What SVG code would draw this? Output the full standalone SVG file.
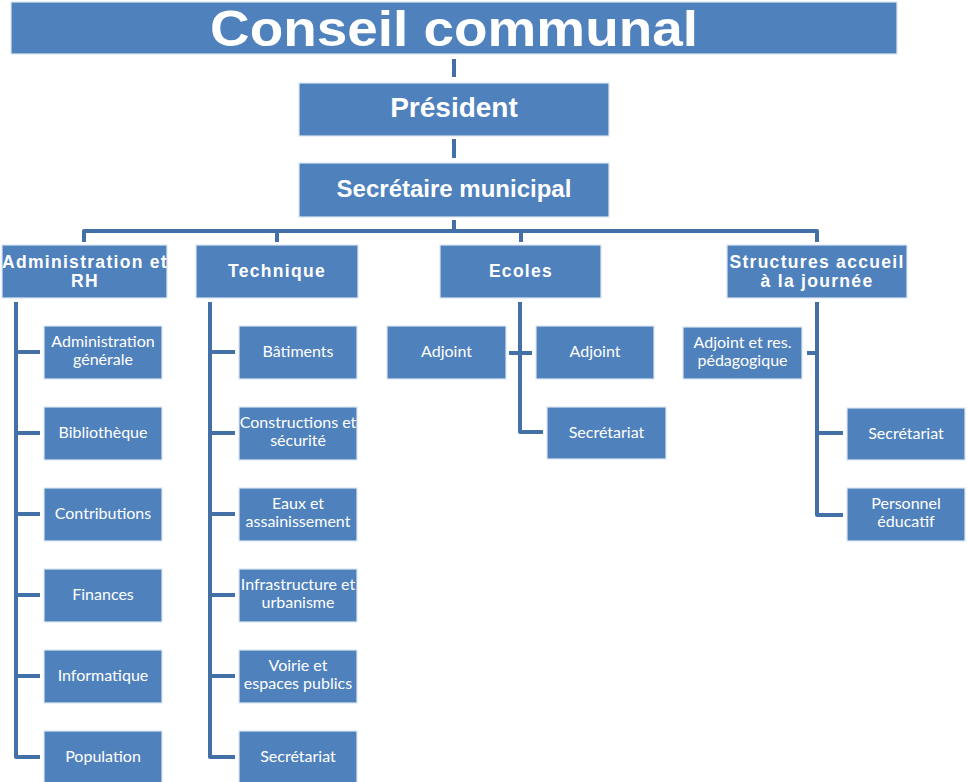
<svg xmlns="http://www.w3.org/2000/svg" width="968" height="782" viewBox="0 0 968 782">
<style>
.box{fill:#4F81BD;stroke:#DCE6F2;stroke-width:1.2}
.t{fill:#fff;font-family:"Liberation Sans",Arial,sans-serif;font-weight:bold;text-anchor:middle}
.h{font-size:17.5px;letter-spacing:1.3px}
.s{fill:#fff;font-family:Lato,"Open Sans",sans-serif;font-size:16px;text-anchor:middle}
.c{fill:none;stroke:#4470A8;stroke-width:4;stroke-linejoin:round;stroke-linecap:butt}
</style>
<rect width="968" height="782" fill="#fff"/>
<g id="connectors">
<path class="c" d="M454 59V77"/>
<path class="c" d="M454 139V158"/>
<path class="c" d="M454 220V231"/>
<path class="c" d="M84 242V231H817V242"/>
<path class="c" d="M277 231V242"/>
<path class="c" d="M521 231V242"/>
<path class="c" d="M16 302V757H40"/>
<path class="c" d="M16 352H40M16 433H40M16 514H40M16 595H40M16 676H40"/>
<path class="c" d="M210 302V757H235"/>
<path class="c" d="M210 352H235M210 433H235M210 514H235M210 595H235M210 676H235"/>
<path class="c" d="M520 302V432H543"/>
<path class="c" d="M509 353H532"/>
<path class="c" d="M817 302V515H843"/>
<path class="c" d="M807 353H817M817 433H843"/>
</g>
<g id="conseil"><rect class="box" x="11" y="2" width="886" height="52"/><text class="t" x="454" y="46" font-size="50" textLength="488" lengthAdjust="spacingAndGlyphs">Conseil communal</text></g>
<g id="president"><rect class="box" x="299" y="83" width="310" height="53"/><text class="t" x="454" y="117" font-size="28">Président</text></g>
<g id="secretaire"><rect class="box" x="299" y="163" width="310" height="54"/><text class="t" x="454" y="197" font-size="24">Secrétaire municipal</text></g>
<g id="admin"><rect class="box" x="2" y="245" width="165" height="53"/><text class="t h" x="85" y="268">Administration et</text><text class="t h" x="85" y="287">RH</text></g>
<g id="technique"><rect class="box" x="196" y="245" width="162" height="53"/><text class="t h" x="277" y="277">Technique</text></g>
<g id="ecoles"><rect class="box" x="440" y="245" width="161" height="53"/><text class="t h" x="521" y="277">Ecoles</text></g>
<g id="structures"><rect class="box" x="727" y="245" width="180" height="53"/><text class="t h" x="817" y="268">Structures accueil</text><text class="t h" x="817" y="287">à la journée</text></g>
<g id="admin-generale"><rect class="box" x="44" y="326" width="118" height="53"/><text class="s" x="103" y="347">Administration</text><text class="s" x="103" y="365">générale</text></g>
<g id="bibliotheque"><rect class="box" x="44" y="407" width="118" height="53"/><text class="s" x="103" y="438">Bibliothèque</text></g>
<g id="contributions"><rect class="box" x="44" y="488" width="118" height="53"/><text class="s" x="103" y="519">Contributions</text></g>
<g id="finances"><rect class="box" x="44" y="569" width="118" height="53"/><text class="s" x="103" y="600">Finances</text></g>
<g id="informatique"><rect class="box" x="44" y="650" width="118" height="53"/><text class="s" x="103" y="681">Informatique</text></g>
<g id="population"><rect class="box" x="44" y="731" width="118" height="53"/><text class="s" x="103" y="762">Population</text></g>
<g id="batiments"><rect class="box" x="239" y="326" width="118" height="53"/><text class="s" x="298" y="357">Bâtiments</text></g>
<g id="constructions"><rect class="box" x="239" y="407" width="118" height="53"/><text class="s" x="298" y="428">Constructions et</text><text class="s" x="298" y="446">sécurité</text></g>
<g id="eaux"><rect class="box" x="239" y="488" width="118" height="53"/><text class="s" x="298" y="509">Eaux et</text><text class="s" x="298" y="527">assainissement</text></g>
<g id="infrastructure"><rect class="box" x="239" y="569" width="118" height="53"/><text class="s" x="298" y="590">Infrastructure et</text><text class="s" x="298" y="608">urbanisme</text></g>
<g id="voirie"><rect class="box" x="239" y="650" width="118" height="53"/><text class="s" x="298" y="671">Voirie et</text><text class="s" x="298" y="689">espaces publics</text></g>
<g id="tech-secretariat"><rect class="box" x="239" y="731" width="118" height="53"/><text class="s" x="298" y="762">Secrétariat</text></g>
<g id="ecoles-adjoint1"><rect class="box" x="387" y="326" width="119" height="53"/><text class="s" x="446.5" y="357">Adjoint</text></g>
<g id="ecoles-adjoint2"><rect class="box" x="536" y="326" width="118" height="53"/><text class="s" x="595" y="357">Adjoint</text></g>
<g id="ecoles-secretariat"><rect class="box" x="547" y="407" width="119" height="52"/><text class="s" x="606.5" y="438">Secrétariat</text></g>
<g id="adjoint-res"><rect class="box" x="683" y="327" width="119" height="52"/><text class="s" x="742.5" y="348">Adjoint et res.</text><text class="s" x="742.5" y="366">pédagogique</text></g>
<g id="sa-secretariat"><rect class="box" x="847" y="408" width="118" height="52"/><text class="s" x="906" y="439">Secrétariat</text></g>
<g id="personnel"><rect class="box" x="847" y="488" width="118" height="53"/><text class="s" x="906" y="509">Personnel</text><text class="s" x="906" y="527">éducatif</text></g>
</svg>
